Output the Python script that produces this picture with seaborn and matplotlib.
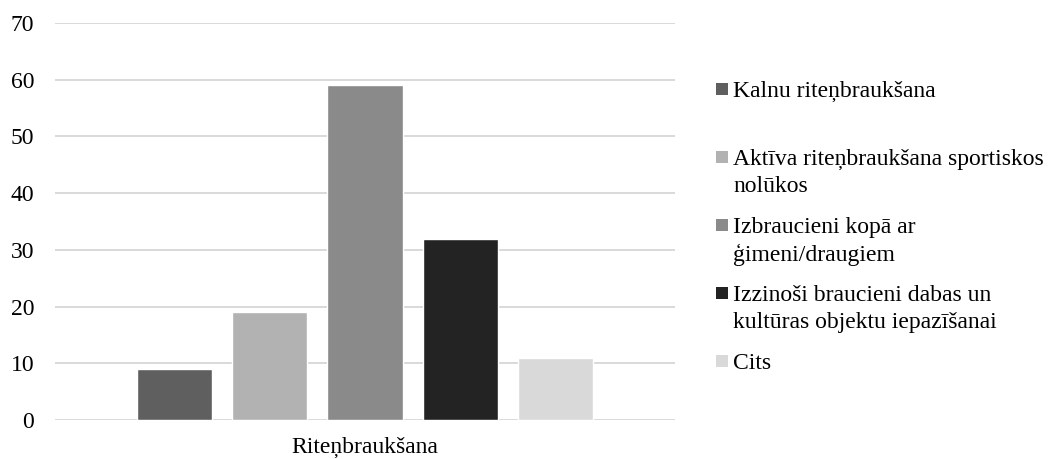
import matplotlib
matplotlib.use("Agg")
import matplotlib.pyplot as plt
import seaborn as sns
import pandas as pd
from matplotlib.patches import Rectangle

# ---- data ----
group = "Riteņbraukšana"
categories = [
    "Kalnu riteņbraukšana",
    "Aktīva riteņbraukšana sportiskos\nnolūkos",
    "Izbraucieni kopā ar\nģimeni/draugiem",
    "Izzinoši braucieni dabas un\nkultūras objektu iepazīšanai",
    "Cits",
]
values = [9, 19, 59, 32, 11]
colors = ["#5f5f5f", "#b2b2b2", "#8a8a8a", "#232323", "#d9d9d9"]
yticks = [0, 10, 20, 30, 40, 50, 60, 70]

df = pd.DataFrame({"group": [group] * len(values), "category": categories, "value": values})

sns.set_theme(style="white")
plt.rcParams["font.family"] = ["Liberation Serif", "DejaVu Serif"]

W, H = 1053, 459
fig = plt.figure(figsize=(W / 100, H / 100), dpi=100)
ax = fig.add_axes([55 / W, 1 - 420 / H, (675 - 55) / W, (420 - 23) / H])

sns.barplot(data=df, x="group", y="value", hue="category", hue_order=categories,
            palette=colors, saturation=1, width=0.768, gap=0.21, legend=False, ax=ax)

ax.set_ylim(0, 70)
ax.set_xlim(-0.5, 0.5)
ax.set_yticks(yticks)
ax.set_yticklabels([str(t) for t in yticks])
ax.yaxis.grid(True, color="#d9d9d9", linewidth=1.4)
ax.xaxis.grid(False)
ax.set_axisbelow(True)
for s in ax.spines.values():
    s.set_visible(False)
ax.tick_params(axis="y", length=0, pad=15, labelsize=17, labelcolor="black")
ax.tick_params(axis="x", length=0, pad=12, labelsize=17, labelcolor="black")
ax.set_xlabel("")
ax.set_ylabel("")

# ---- legend (Excel-like, square aligned to first line, equal entry spacing) ----
y0_px = 89
step_px = 68
line_px = 27
for i, (lab, col) in enumerate(zip(categories, colors)):
    yc = y0_px + i * step_px
    fig.patches.append(Rectangle((716 / W, 1 - (yc + 6) / H), 12 / W, 12 / H,
                                 transform=fig.transFigure, facecolor=col,
                                 edgecolor="none", figure=fig))
    for k, line in enumerate(lab.split("\n")):
        fig.text(733 / W, 1 - (yc + k * line_px) / H, line, fontsize=17,
                 color="black", ha="left", va="center_baseline")

fig.savefig("out.png", dpi=100, facecolor="white")
